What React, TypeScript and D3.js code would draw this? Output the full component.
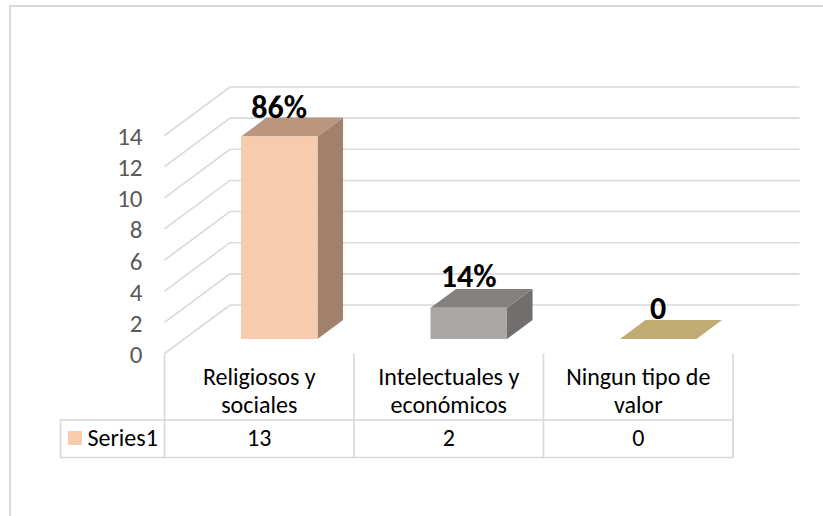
import React from "react";
import * as d3 from "d3";

const categories = [["Religiosos y", "sociales"], ["Intelectuales y", "económicos"], ["Ningun tipo de", "valor"]];
const values = [13, 2, 0];
const labels = ["86%", "14%", "0"];
const ticks = [0, 2, 4, 6, 8, 10, 12, 14];
const seriesName = "Series1";
const frontColors = ["#f7cbad", "#aba7a5", "#c3ae73"];
const sideColors = ["#a1816b", "#716e6d", "#8f7f53"];
const topColors = ["#bb967f", "#84807e", "#c0ab72"];

const FONT = "Carlito, Calibri, Lato, 'Open Sans', sans-serif";
const GRID = "#d9d9d9";

export default function App() {
  const y = d3.scaleLinear().domain([0, 14]).range([353.5, 135.5]);
  const x = d3.scaleBand().domain(["0", "1", "2"]).range([164.5, 733]);
  const depthX = d3.scaleLinear().domain([0, 1]).range([0, 65.5]);
  const depthY = d3.scaleLinear().domain([0, 1]).range([0, -48.5]);
  const bw = 76.5;
  const barOffset = 0.3 * x.bandwidth();
  const d0 = 0.3, d1 = 0.69;
  const labelDy = [0.5, -1.5, -1.5];
  const pt = (px: number, v: number, d: number) => `${px + depthX(d)},${y(v) + depthY(d)}`;
  return (
    <svg width={823} height={516} style={{ position: "absolute", left: 0, top: 0 }} fontFamily={FONT}>
      <rect width={823} height={516} fill="#fff" />
      <polyline points="10,516 10,6 823,6" fill="none" stroke={GRID} strokeWidth={2} />
      {ticks.map((t) => (
        <g key={t}>
          <polyline
            points={`${pt(164.5, t, 0)} ${pt(164.5, t, 1)} 799.5,${y(t) + depthY(1)}`}
            fill="none"
            stroke={GRID}
            strokeWidth={1.6}
          />
          <text x={142.5} y={y(t) + 9.5} fontSize={25} fill="#595959" textAnchor="end">{t}</text>
        </g>
      ))}
      {values.map((v, i) => {
        const left = x(String(i))! + barOffset;
        const right = left + bw;
        const f = frontColors[i], s = sideColors[i], tp = topColors[i];
        return (
          <g key={i}>
            {v > 0 && (
              <polygon points={`${pt(right, 0, d0)} ${pt(right, 0, d1)} ${pt(right, v, d1)} ${pt(right, v, d0)}`} fill={s} />
            )}
            <polygon points={`${pt(left, v, d0)} ${pt(right, v, d0)} ${pt(right, v, d1)} ${pt(left, v, d1)}`} fill={tp} />
            {v > 0 && (
              <polygon points={`${pt(left, 0, d0)} ${pt(right, 0, d0)} ${pt(right, v, d0)} ${pt(left, v, d0)}`} fill={f} />
            )}
          </g>
        );
      })}
      {values.map((v, i) => (
        <text
          key={i}
          x={x(String(i))! + barOffset + bw / 2 + 19.5}
          y={y(v) + depthY(d1) + labelDy[i]}
          fontSize={32}
          fontWeight={700}
          fill="#000"
          textAnchor="middle"
        >
          {labels[i]}
        </text>
      ))}
      <g stroke={GRID} strokeWidth={1.6} fill="none">
        <line x1={164.5} x2={164.5} y1={353.5} y2={457.5} />
        {categories.map((_, i) => {
          const r = x(String(i))! + x.bandwidth();
          return <line key={i} x1={r} x2={r} y1={353.5} y2={457.5} />;
        })}
        <rect x={60.5} y={420} width={672.5} height={37.5} />
      </g>
      {categories.map((c, i) => {
        const cx = x(String(i))! + x.bandwidth() / 2;
        return (
          <g key={i} fontSize={24} fill="#000" textAnchor="middle">
            <text x={cx} y={385}>{c[0]}</text>
            <text x={cx} y={413}>{c[1]}</text>
            <text x={cx} y={446}>{values[i]}</text>
          </g>
        );
      })}
      <rect x={68} y={431} width={14} height={14} fill={frontColors[0]} />
      <text x={87.5} y={446} fontSize={24} fill="#000">{seriesName}</text>
    </svg>
  );
}
